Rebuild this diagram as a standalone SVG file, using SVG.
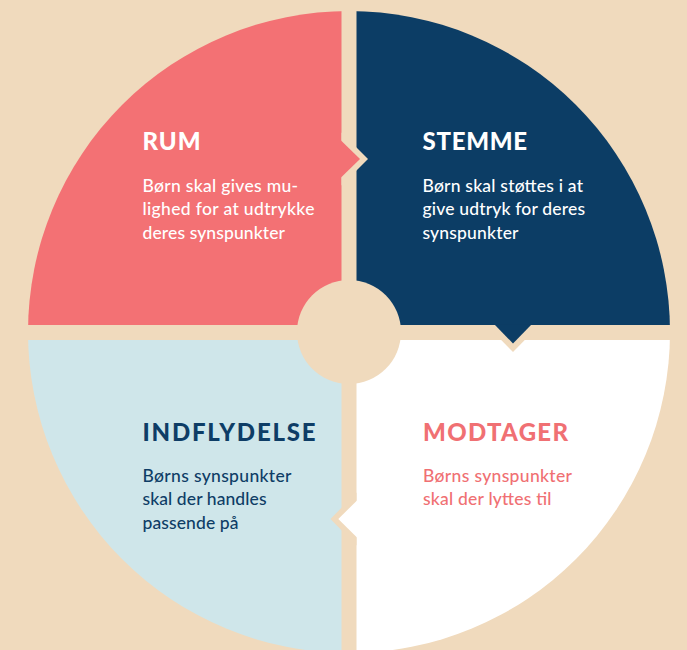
<svg xmlns="http://www.w3.org/2000/svg" width="687" height="650" viewBox="0 0 687 650">
<style>
.h{font-family:Lato,"Open Sans","DejaVu Sans",sans-serif;font-weight:900;font-size:24px;letter-spacing:1px}
.b{font-family:Lato,"Open Sans","DejaVu Sans",sans-serif;font-weight:500;font-size:17.5px}
.bg{fill:#F0DABD}
.red{fill:#F37174}
.navy{fill:#0C3D65}
.lb{fill:#CFE6EA}
.wh{fill:#FFFFFF}
</style>
<rect width="687" height="650" class="bg"/>
<g id="rum">
<path class="red" d="M349,332 L28,332 A321,321 0 0 1 349,11 Z"/>
</g>
<g id="stemme">
<path class="navy" d="M349,332 L349,11 A321,321 0 0 1 670,332 Z"/>
</g>
<g id="modtager">
<path class="wh" d="M349,332 L670,332 A321,321 0 0 1 349,653 Z"/>
</g>
<g id="indflydelse">
<path class="lb" d="M349,332 L349,653 A321,321 0 0 1 28,332 Z"/>
</g>
<g id="gaps">
<rect class="bg" x="341.5" y="0" width="15" height="650"/>
<rect class="bg" x="0" y="325" width="687" height="15"/>
<circle class="bg" cx="349" cy="332" r="52"/>
</g>
<g id="connectors">
<polygon class="bg" points="341.5,132.5 368,159 341.5,185.5"/>
<polygon class="red" points="341,140.5 360,159 341,177.5"/>
<polygon class="bg" points="486.5,325 513,352 539.5,325"/>
<polygon class="navy" points="494.5,324.5 513,343.5 531.5,324.5"/>
<polygon class="bg" points="356.5,492.5 330.5,519 356.5,545.5"/>
<polygon class="wh" points="357,500.5 338.3,519 357,537.5"/>
</g>
<g id="rum-text" fill="#FFFFFF">
<text class="h" x="142.5" y="150" textLength="59" lengthAdjust="spacing">RUM</text>
<text class="b" x="142.5" y="191.5" textLength="155.5" lengthAdjust="spacing">Børn skal gives mu-</text>
<text class="b" x="142.5" y="215" textLength="172" lengthAdjust="spacing">lighed for at udtrykke</text>
<text class="b" x="142.5" y="238.5" textLength="142.5" lengthAdjust="spacing">deres synspunkter</text>
</g>
<g id="stemme-text" fill="#FFFFFF">
<text class="h" x="422.5" y="150" textLength="105.5" lengthAdjust="spacing">STEMME</text>
<text class="b" x="422.5" y="191.5" textLength="160.5" lengthAdjust="spacing">Børn skal støttes i at</text>
<text class="b" x="422.5" y="215" textLength="162.5" lengthAdjust="spacing">give udtryk for deres</text>
<text class="b" x="422.5" y="238.5" textLength="96" lengthAdjust="spacing">synspunkter</text>
</g>
<g id="indflydelse-text" fill="#0E3D66">
<text class="h" x="142.5" y="440.5" textLength="174" lengthAdjust="spacing">INDFLYDELSE</text>
<text class="b" x="142.5" y="481.5" textLength="149" lengthAdjust="spacing">Børns synspunkter</text>
<text class="b" x="142.5" y="505" textLength="124" lengthAdjust="spacing">skal der handles</text>
<text class="b" x="142.5" y="528.5" textLength="96" lengthAdjust="spacing">passende på</text>
</g>
<g id="modtager-text" fill="#F07073">
<text class="h" x="423" y="440.5" textLength="146" lengthAdjust="spacing">MODTAGER</text>
<text class="b" x="423" y="481.5" textLength="149" lengthAdjust="spacing">Børns synspunkter</text>
<text class="b" x="423" y="505" textLength="128.5" lengthAdjust="spacing">skal der lyttes til</text>
</g>
</svg>
